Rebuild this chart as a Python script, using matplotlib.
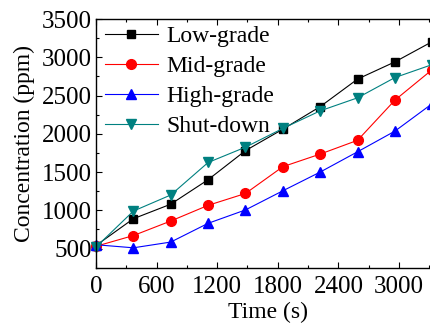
import matplotlib
matplotlib.use("Agg")
import matplotlib.pyplot as plt
from matplotlib.ticker import MultipleLocator

time_s = [0, 370, 740, 1110, 1480, 1850, 2220, 2590, 2960, 3330]
low_grade = [540, 890, 1080, 1400, 1780, 2060, 2355, 2715, 2940, 3205]
mid_grade = [530, 670, 860, 1065, 1220, 1570, 1735, 1915, 2440, 2840]
high_grade = [550, 510, 585, 830, 1005, 1255, 1500, 1765, 2035, 2395]
shut_down = [520, 990, 1200, 1625, 1825, 2070, 2300, 2470, 2735, 2905]

series_names = ["Low-grade", "Mid-grade", "High-grade", "Shut-down"]
xticks = [0, 600, 1200, 1800, 2400, 3000]
yticks = [500, 1000, 1500, 2000, 2500, 3000, 3500]

plt.rcParams['font.family'] = ['Liberation Serif', 'DejaVu Serif']

fig = plt.figure(figsize=(4.31, 3.26), dpi=100)
x0 = 96 / 431
y0 = 1 - 267.7 / 326
y1 = 1 - 19 / 326
xmax = 3400
px_per = 303 / 3000
width_px = xmax * px_per
ax = fig.add_axes([x0, y0, width_px / 431, y1 - y0])

styles = [
    dict(color='black', marker='s', ms=5.8),
    dict(color='#ff0000', marker='o', ms=7),
    dict(color='#0000ff', marker='^', ms=7.5),
    dict(color='#008080', marker='v', ms=7.5),
]
for ys, name, st in zip([low_grade, mid_grade, high_grade, shut_down], series_names, styles):
    ax.plot(time_s, ys, color=st['color'], marker=st['marker'], markersize=st['ms'],
            linewidth=0.8, label=name, clip_on=False)

ax.set_xlim(0, xmax)
ax.set_ylim(250, 3500)
ax.set_xticks(xticks)
ax.set_yticks(yticks)
ax.xaxis.set_minor_locator(MultipleLocator(300))
ax.yaxis.set_minor_locator(MultipleLocator(250))
ax.tick_params(which='both', direction='in', top=True, right=True, labelsize=18)
ax.tick_params(axis='x', pad=6)
ax.tick_params(axis='y', pad=3)
ax.tick_params(which='major', length=4, width=0.8)
ax.tick_params(which='minor', length=2.5, width=0.8)
for s in ax.spines.values():
    s.set_linewidth(1.0)

ax.set_xlabel("Time (s)", fontsize=17, labelpad=3)
ax.set_ylabel("Concentration (ppm)", fontsize=17, labelpad=5)

leg = ax.legend(loc='upper left', frameon=False, fontsize=17, handlelength=2.25,
                handletextpad=0.35, labelspacing=0.36, borderaxespad=0.0, borderpad=0.0,
                bbox_to_anchor=(0.026, 0.973))

fig.savefig("out.png", dpi=100)
